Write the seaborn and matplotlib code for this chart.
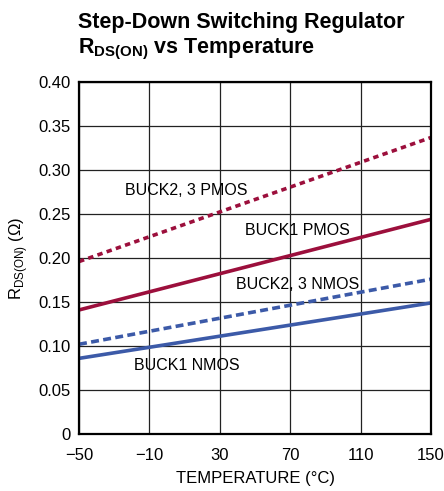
import matplotlib.pyplot as plt
import pandas as pd
import seaborn as sns

temps = [-50, 150]
buck23_pmos = [0.196, 0.337]
buck1_pmos = [0.141, 0.244]
buck23_nmos = [0.102, 0.176]
buck1_nmos = [0.086, 0.149]

red = "#9c0f3c"
blue = "#3c5aa8"

sns.set_style("ticks")
plt.rcParams['font.family'] = ['Liberation Sans', 'DejaVu Sans']
plt.rcParams['mathtext.fontset'] = 'custom'
plt.rcParams['mathtext.rm'] = 'Liberation Sans'
plt.rcParams['mathtext.bf'] = 'Liberation Sans:bold'
plt.rcParams['text.color'] = 'black'
plt.rcParams['axes.labelcolor'] = 'black'
plt.rcParams['xtick.color'] = 'black'
plt.rcParams['ytick.color'] = 'black'

fig = plt.figure(figsize=(4.44, 4.91), dpi=100)
ax = fig.add_axes([0.178, 0.116, 0.793, 0.717])

series = [
    (buck23_pmos, red, (0, (1.5, 1.2))),
    (buck1_pmos, red, "-"),
    (buck23_nmos, blue, (0, (2.2, 1.2))),
    (buck1_nmos, blue, "-"),
]
for vals, col, ls in series:
    df = pd.DataFrame({"t": temps, "r": vals})
    sns.lineplot(data=df, x="t", y="r", ax=ax, color=col, linewidth=2.6, linestyle=ls)

ax.set_xlim(-50, 150)
ax.set_ylim(0, 0.40)
ax.set_xticks([-50, -10, 30, 70, 110, 150])
ax.set_xticklabels(["\u221250", "\u221210", "30", "70", "110", "150"])
ax.set_yticks([0, 0.05, 0.10, 0.15, 0.20, 0.25, 0.30, 0.35, 0.40])
ax.set_yticklabels(["0", "0.05", "0.10", "0.15", "0.20", "0.25", "0.30", "0.35", "0.40"])
ax.grid(True, color="#222222", linewidth=0.9)
ax.tick_params(axis="y", length=0, labelsize=12, pad=6)
ax.tick_params(axis="x", length=0, labelsize=12, pad=10)
for s in ax.spines.values():
    s.set_linewidth(1.6)
    s.set_color("black")

ax.set_xlabel("TEMPERATURE (\u00b0C)", fontsize=12, labelpad=6)
ax.set_ylabel("R$_{\\mathregular{DS(ON)}}$ (\u03a9)", fontsize=12, labelpad=6)

ax.text(11, 0.277, "BUCK2, 3 PMOS", ha="center", va="center", fontsize=11.5)
ax.text(74, 0.231, "BUCK1 PMOS", ha="center", va="center", fontsize=11.5)
ax.text(74, 0.170, "BUCK2, 3 NMOS", ha="center", va="center", fontsize=11.5)
ax.text(11, 0.078, "BUCK1 NMOS", ha="center", va="center", fontsize=11.5)

fig.text(0.176, 0.954, "Step-Down Switching Regulator", fontsize=15.5, fontweight="bold", va="center")
fig.text(0.176, 0.899, r"R$_{\mathbf{DS(ON)}}$ vs Temperature", fontsize=15.5, fontweight="bold", va="center")

fig.savefig("out.png", dpi=100)
